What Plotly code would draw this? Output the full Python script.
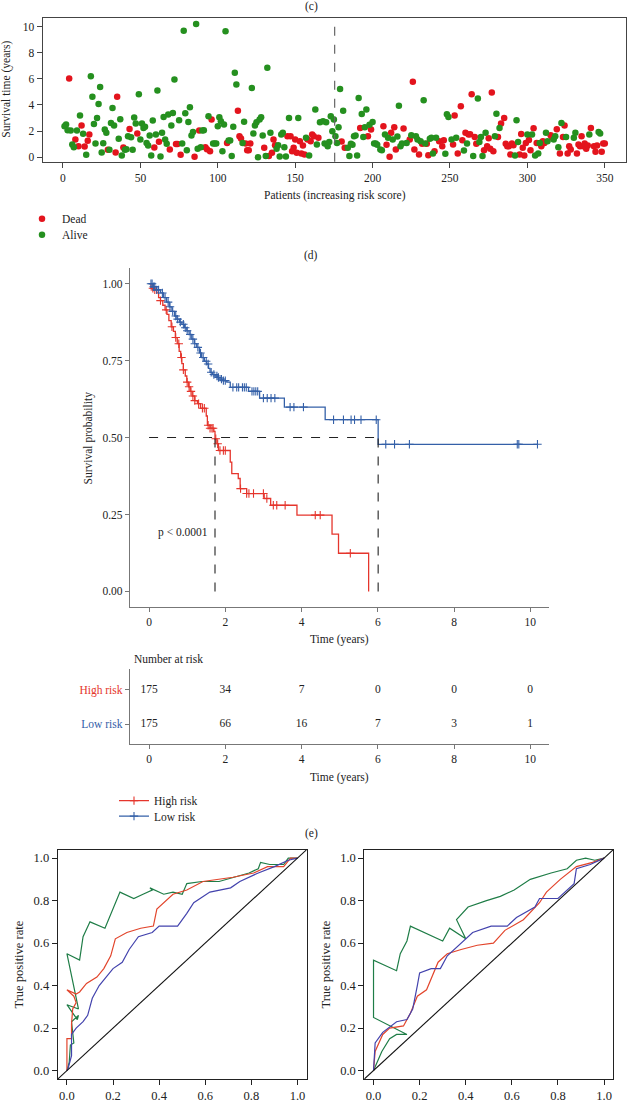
import numpy as np
import plotly.graph_objects as go

# ---------------- data ----------------
# (c) risk-ordered patients: survival time (years), status 1 = Dead, 0 = Alive
seg1_time = [
    2.37, 2.5, 2.06, 6.03, 2.04, 0.97, 0.76, 1.35, 2.04, 0.84,
    3.18, 2.42, 1.8, 0.81, 0.18, 1.25, 1.73, 6.2, 4.63, 2.54,
    1.04, 3.0, 4.07, 5.37, 0.36, 1.07, 2.11, 1.86, 0.56, 0.56,
    2.62, 3.77, 2.42, 0.36, 4.63, 1.4, 2.9, 0.13, 0.74, 0.56,
    0.61, 1.6, 2.16, 1.53, 0.56, 3.03, 2.57, 1.81, 4.81, 1.35,
    2.57, 2.24, 2.32, 1.09, 0.89, 1.65, 0.13, 2.8, 0.74, 1.73,
    5.11, 1.17, 0.05, 1.86, 3.08, 1.35, 1.02, 3.26, 0.59, 2.42,
    3.38, 5.95, 1.0, 1.0, 2.82, 0.18, 1.04, 9.69, 3.36, 0.53,
    2.7, 3.82, 1.65, 1.93, 0.03, 10.2, 0.64, 2.04, 0.76, 2.04,
    2.06, 0.76, 0.61, 3.13, 0.46, 2.88, 1.04, 1.04, 1.04, 2.37,
    3.05, 2.75, 0.46, 2.5, 9.64, 1.09, 1.27, 1.27, 0.08, 2.32,
    6.46, 5.57, 3.56, 1.6, 1.42, 1.09, 2.72, 1.04, 0.53, 0.53,
    1.04, 5.29, 1.81, 2.42, 2.67, 0.0, 2.88, 3.05, 1.65, 0.71,
    0.08, 6.84, 0.08, 1.86, 0.33, 1.35, 0.92, 0.64, 0.92, 0.05,
    1.73, 1.86, 0.76, 0.05, 1.6, 3.0, 1.6, 0.46, 0.71, 1.35,
    0.33, 3.0, 1.22, 0.28, 0.89, 0.2, 1.48, 1.35, 0.13, 1.22,
    1.73, 1.6, 3.64, 0.97, 1.48, 2.67]
seg1_status = [
    0, 0, 0, 1, 0, 0, 0, 1, 0, 1,
    0, 1, 0, 1, 0, 1, 1, 0, 0, 0,
    0, 0, 0, 0, 0, 0, 0, 0, 1, 0,
    0, 0, 0, 1, 1, 0, 0, 0, 1, 0,
    0, 0, 1, 0, 0, 0, 0, 1, 0, 0,
    0, 0, 0, 0, 0, 0, 0, 0, 1, 0,
    0, 1, 0, 0, 0, 0, 0, 0, 1, 0,
    0, 0, 1, 1, 0, 1, 0, 0, 0, 0,
    0, 0, 0, 0, 1, 0, 0, 1, 0, 0,
    0, 1, 1, 0, 1, 1, 0, 0, 0, 0,
    0, 0, 0, 0, 0, 1, 0, 0, 0, 0,
    0, 0, 1, 1, 1, 0, 0, 1, 1, 1,
    1, 0, 0, 0, 0, 0, 0, 0, 0, 1,
    0, 0, 1, 0, 1, 1, 1, 0, 0, 0,
    0, 0, 0, 0, 1, 0, 1, 1, 1, 1,
    1, 0, 1, 1, 1, 1, 0, 1, 0, 1,
    1, 1, 0, 0, 1, 0]
seg2_patient = [
    168, 169, 170, 171, 172, 173, 174, 175, 176, 177,
    178, 179, 180, 181, 182, 184, 185, 186, 187, 188,
    189, 190, 191, 192, 193, 194, 195, 196, 197, 198,
    199, 200, 201, 202, 203, 205, 206, 207, 208, 209,
    210, 211, 212, 213, 214, 215, 216, 217, 218, 219,
    220, 222, 224, 225, 226, 227, 228, 229, 230, 231,
    232, 233, 234, 235, 236, 237, 238, 239, 240, 241,
    243, 245, 246, 247, 248, 249, 251, 252, 253, 254,
    255, 257, 258, 259, 260, 261, 262, 263, 264, 265,
    266, 267, 268, 269, 270, 271, 272, 273, 274, 275,
    276, 277, 278, 279, 280, 281, 282, 283, 285, 286,
    287, 288, 289, 290, 291, 292, 293, 294, 295, 296,
    297, 298, 299, 300, 301, 302, 303, 304, 305, 306,
    307, 308, 309, 310, 311, 312, 313, 315, 316, 317,
    318, 319, 320, 321, 322, 323, 324, 325, 326, 327,
    328, 330, 331, 332, 333, 334, 335, 336, 337, 338,
    339, 340, 341, 343, 344, 345, 346, 347, 348, 349,
    350]
seg2_time = [
    2.75, 1.04, 2.67, 0.84, 1.15, 3.13, 1.98, 2.88, 1.6, 1.09,
    2.29, 5.22, 1.2, 3.56, 0.71, 0.71, 0.08, 1.02, 0.94, 1.6,
    1.65, 0.13, 4.53, 2.24, 3.31, 1.55, 2.29, 3.64, 1.6, 2.49,
    2.11, 2.7, 1.04, 1.04, 0.94, 0.59, 0.53, 2.37, 1.73, 0.94,
    1.48, 0.03, 1.86, 1.35, 2.29, 0.59, 1.58, 3.94, 0.84, 1.04,
    2.19, 1.09, 1.35, 1.68, 5.78, 0.59, 1.6, 1.35, 0.2, 1.22,
    1.02, 4.36, 1.04, 1.02, 0.15, 1.4, 1.48, 0.28, 0.46, 1.48,
    1.22, 0.84, 1.3, 0.25, 3.28, 3.08, 1.35, 0.97, 3.18, 1.48,
    0.28, 3.89, 1.3, 0.51, 1.86, 1.04, 1.73, 1.76, 4.81, 0.08,
    1.55, 1.02, 4.5, 1.15, 1.55, 0.08, 0.53, 1.86, 0.84, 1.45,
    0.64, 4.96, 0.46, 1.6, 3.33, 1.55, 2.24, 2.57, 3.0, 1.02,
    0.84, 0.84, 0.2, 1.04, 0.92, 0.13, 2.82, 1.15, 0.2, 1.78,
    0.71, 0.13, 1.09, 1.73, 1.32, 0.53, 1.73, 2.21, 0.13, 1.09,
    0.28, 1.09, 0.84, 1.22, 1.09, 1.86, 1.22, 1.68, 1.48, 1.35,
    1.6, 2.14, 0.76, 0.28, 2.62, 1.55, 2.42, 1.55, 0.28, 0.84,
    0.59, 1.48, 1.86, 0.28, 0.97, 0.84, 1.6, 0.84, 1.04, 0.64,
    0.89, 1.73, 2.24, 0.84, 0.41, 0.89, 1.93, 1.81, 0.41, 1.04,
    1.04]
seg2_status = [
    0, 0, 0, 0, 0, 0, 0, 0, 0, 0,
    0, 0, 1, 0, 1, 0, 0, 0, 0, 0,
    0, 0, 0, 1, 0, 0, 0, 0, 1, 0,
    1, 0, 0, 0, 0, 0, 0, 1, 0, 1,
    0, 1, 1, 0, 1, 1, 0, 0, 0, 0,
    1, 0, 1, 0, 1, 1, 0, 0, 1, 0,
    1, 0, 0, 1, 1, 0, 0, 0, 1, 0,
    1, 1, 1, 0, 0, 0, 0, 1, 1, 0,
    1, 1, 1, 0, 1, 0, 1, 1, 1, 0,
    1, 1, 0, 0, 0, 0, 1, 0, 1, 1,
    1, 1, 1, 0, 0, 1, 0, 1, 1, 1,
    1, 1, 1, 1, 1, 0, 0, 0, 1, 1,
    1, 1, 1, 0, 1, 1, 0, 1, 0, 1,
    0, 0, 1, 1, 1, 0, 0, 1, 1, 0,
    0, 1, 0, 1, 0, 1, 1, 0, 1, 1,
    1, 0, 0, 1, 1, 1, 1, 1, 1, 1,
    1, 0, 1, 1, 1, 1, 0, 0, 1, 1,
    1]

# (d) Kaplan-Meier steps: (time, survival after the drop)
high_t = [0, 0.05, 0.12, 0.2, 0.25, 0.3, 0.36, 0.42, 0.47, 0.52, 0.58, 0.64, 0.69,
          0.74, 0.79, 0.83, 0.86, 0.9, 0.95, 0.99, 1.04, 1.08, 1.13, 1.2, 1.27, 1.35,
          1.5, 1.53, 1.6, 1.7, 1.73, 1.78, 1.82, 2.13, 2.17, 2.34, 2.39, 2.56, 3.02,
          3.19, 3.88, 4.8, 4.97, 5.76]
high_s = [1.0, 0.985, 0.98, 0.97, 0.955, 0.945, 0.93, 0.915, 0.9, 0.88, 0.86, 0.845, 0.825,
          0.805, 0.78, 0.76, 0.74, 0.72, 0.70, 0.68, 0.665, 0.65, 0.635, 0.62, 0.61, 0.595,
          0.57, 0.54, 0.53, 0.52, 0.496, 0.48, 0.458, 0.42, 0.383, 0.367, 0.334, 0.318, 0.302,
          0.28, 0.248, 0.186, 0.124, 0.0]
high_cens = [0.1, 0.15, 0.3, 0.45, 0.6, 0.7, 0.78, 0.85, 0.9, 1.0, 1.05, 1.1, 1.15, 1.2,
             1.3, 1.4, 1.45, 1.55, 1.6, 1.65, 1.68, 1.75, 1.8, 1.86, 1.95, 2.0, 2.4, 2.56,
             2.62, 2.74, 3.0, 3.09, 3.26, 3.35, 3.57, 4.36, 4.49, 5.28]
low_t = [0, 0.1, 0.2, 0.3, 0.38, 0.46, 0.53, 0.6, 0.67, 0.73, 0.8, 0.86, 0.93, 0.99, 1.05,
         1.12, 1.19, 1.25, 1.32, 1.38, 1.45, 1.51, 1.56, 1.6, 1.66, 1.73, 1.8, 1.86, 1.95,
         2.04, 2.13, 2.61, 2.9, 3.55, 4.62, 6.01, 10.19]
low_s = [1.0, 0.99, 0.98, 0.97, 0.955, 0.94, 0.925, 0.91, 0.895, 0.885, 0.875, 0.868, 0.857,
         0.847, 0.835, 0.82, 0.805, 0.793, 0.775, 0.76, 0.748, 0.739, 0.725, 0.712, 0.705,
         0.70, 0.695, 0.69, 0.685, 0.68, 0.663, 0.65, 0.628, 0.599, 0.558, 0.478, 0.478]
low_cens = [0.05, 0.08, 0.12, 0.15, 0.2, 0.25, 0.35, 0.42, 0.5, 0.55, 0.62, 0.7, 0.75, 0.82,
            0.9, 0.95, 1.0, 1.08, 1.15, 1.2, 1.28, 1.35, 1.42, 1.5, 1.55, 1.63, 1.7, 1.78,
            1.82, 1.9, 1.95, 2.0, 2.2, 2.3, 2.35, 2.45, 2.5, 2.55, 2.7, 2.75, 2.8, 2.85, 3.0,
            3.1, 3.2, 3.3, 3.7, 3.8, 4.05, 4.84, 5.1, 5.3, 5.39, 5.56, 5.96, 6.21, 6.44, 6.83,
            9.66, 9.70, 10.19]

# risk table
risk_times = [0, 2, 4, 6, 8, 10]
risk_high = [175, 34, 7, 0, 0, 0]
risk_low = [175, 66, 16, 7, 3, 1]

# (e) ROC curves (false positive rate, true positive rate)
roc1_green_x = [0, 0.01, 0.015, 0.03, 0.02, 0.05, 0.045, 0.0, 0.05, 0.0, 0.055, 0.07, 0.10, 0.165,
                0.23, 0.29, 0.33, 0.37, 0.36, 0.42, 0.46, 0.50, 0.52, 0.585, 0.66, 0.72, 0.79,
                0.83, 0.84, 0.88, 0.94, 0.96, 1.0]
roc1_green_y = [0, 0.04, 0.12, 0.13, 0.23, 0.26, 0.24, 0.31, 0.29, 0.55, 0.52, 0.63, 0.70, 0.67,
                0.84, 0.81, 0.83, 0.85, 0.86, 0.83, 0.84, 0.83, 0.88, 0.89, 0.89, 0.91, 0.93,
                0.95, 0.98, 0.97, 0.97, 1.0, 1.0]
roc1_red_x = [0, 0.0, 0.02, 0.02, 0.025, 0.04, 0.03, 0.0, 0.04, 0.055, 0.085, 0.13, 0.16, 0.19,
              0.21, 0.26, 0.32, 0.375, 0.39, 0.42, 0.46, 0.52, 0.59, 0.72, 0.81, 0.87, 0.94,
              0.97, 1.0]
roc1_red_y = [0, 0.15, 0.15, 0.22, 0.29, 0.32, 0.35, 0.38, 0.36, 0.37, 0.41, 0.44, 0.48, 0.54,
              0.62, 0.65, 0.67, 0.68, 0.76, 0.79, 0.83, 0.85, 0.89, 0.91, 0.93, 0.96, 0.96,
              1.0, 1.0]
roc1_blue_x = [0, 0.005, 0.02, 0.02, 0.04, 0.07, 0.09, 0.11, 0.14, 0.17, 0.2, 0.24, 0.27, 0.31,
               0.37, 0.4, 0.48, 0.52, 0.55, 0.62, 0.71, 0.75, 0.83, 0.9, 0.96, 1.0]
roc1_blue_y = [0, 0.01, 0.07, 0.17, 0.2, 0.23, 0.26, 0.34, 0.4, 0.44, 0.48, 0.51, 0.57, 0.63,
               0.65, 0.68, 0.68, 0.74, 0.79, 0.84, 0.86, 0.89, 0.93, 0.96, 0.99, 1.0]
roc2_green_x = [0, 0.015, 0.036, 0.07, 0.1, 0.145, 0.0, 0.0, 0.1, 0.116, 0.145, 0.16, 0.3, 0.33,
                0.4, 0.36, 0.41, 0.49, 0.55, 0.61, 0.68, 0.77, 0.84, 0.88, 0.92, 0.96, 1.0]
roc2_green_y = [0, 0.04, 0.09, 0.15, 0.17, 0.17, 0.25, 0.52, 0.47, 0.55, 0.61, 0.68, 0.61, 0.67,
                0.62, 0.71, 0.77, 0.8, 0.82, 0.85, 0.9, 0.93, 0.95, 0.99, 1.0, 0.99, 1.0]
roc2_red_x = [0, 0.007, 0.04, 0.07, 0.13, 0.16, 0.19, 0.23, 0.28, 0.32, 0.38, 0.45, 0.52, 0.57,
              0.65, 0.72, 0.75, 0.81, 0.88, 0.95, 1.0]
roc2_red_y = [0, 0.09, 0.17, 0.2, 0.21, 0.27, 0.35, 0.38, 0.51, 0.55, 0.57, 0.59, 0.6, 0.66,
              0.71, 0.79, 0.84, 0.9, 0.96, 0.98, 1.0]
roc2_blue_x = [0, 0.007, 0.04, 0.1, 0.145, 0.17, 0.19, 0.2, 0.25, 0.29, 0.32, 0.39, 0.43, 0.51,
               0.58, 0.62, 0.7, 0.72, 0.8, 0.87, 0.88, 0.94, 1.0]
roc2_blue_y = [0, 0.13, 0.18, 0.23, 0.24, 0.29, 0.4, 0.46, 0.48, 0.48, 0.54, 0.61, 0.65, 0.68,
               0.68, 0.72, 0.77, 0.81, 0.81, 0.88, 0.95, 0.97, 1.0]

# ---------------- layout helpers ----------------
W, H = 627, 1103
FONT = "Liberation Serif"
TXT = "#222222"


def fx(p):
    return p / W


def fy(p):
    return 1 - p / H


RED_PT, GREEN_PT = "#e3141d", "#25901f"
KM_RED, KM_BLUE = "#e5352c", "#3460a8"
ROC_GREEN, ROC_RED, ROC_BLUE = "#1f7d47", "#e2452c", "#4343ad"

patients = np.array(list(range(1, len(seg1_time) + 1)) + seg2_patient)
surv_time = np.array(seg1_time + seg2_time)
status = np.array(seg1_status + seg2_status)

fig = go.Figure()

# ---- (c) scatter ----
for flag, name, col, lg in [(1, "Dead", RED_PT, "legend"), (0, "Alive", GREEN_PT, "legend3")]:
    m = status == flag
    fig.add_trace(go.Scatter(x=patients[m], y=surv_time[m], mode="markers", name=name,
                             marker=dict(color=col, size=6.5, line=dict(width=0)),
                             xaxis="x", yaxis="y", legend=lg))


# ---- (d) KM ----
def step_val(ts, ss, t):
    idx = np.searchsorted(np.array(ts), t, side="right") - 1
    return np.array(ss)[idx]


for ts, ss, cens, col, name, lg in [(high_t, high_s, high_cens, KM_RED, "High risk", "legend2"),
                                    (low_t, low_s, low_cens, KM_BLUE, "Low risk", "legend4")]:
    fig.add_trace(go.Scatter(x=ts, y=ss, mode="lines", line=dict(color=col, width=1.3, shape="hv"),
                             xaxis="x2", yaxis="y2", showlegend=False))
    fig.add_trace(go.Scatter(x=cens, y=step_val(ts, ss, np.array(cens)), mode="markers",
                             marker=dict(symbol="cross-thin", size=6, line=dict(color=col, width=1.1)),
                             xaxis="x2", yaxis="y2", showlegend=False))
    fig.add_trace(go.Scatter(x=[None], y=[None], mode="lines+markers", name=name,
                             line=dict(color=col, width=1.3),
                             marker=dict(symbol="cross-thin", size=6, line=dict(color=col, width=1.1)),
                             xaxis="x2", yaxis="y2", legend=lg))


def median_time(ts, ss):
    ss = np.array(ss)
    return np.array(ts)[np.argmax(ss <= 0.5)]


med_high = median_time(high_t, high_s)
med_low = median_time(low_t, low_s)
shapes = []
dash = dict(color="#222", width=1.1, dash="dash")
shapes.append(dict(type="line", xref="x2", yref="y2", x0=0, x1=max(med_high, med_low), y0=0.5, y1=0.5, line=dash))
for m in (med_high, med_low):
    shapes.append(dict(type="line", xref="x2", yref="y2", x0=m, x1=m, y0=0, y1=0.5, line=dash))

# risk-group split in (c)
shapes.append(dict(type="line", xref="x", yref="y domain", x0=risk_high[0] + 0.5, x1=risk_high[0] + 0.5,
                   y0=0, y1=1, line=dict(color="#666", width=1.2, dash="dash")))

# ---- risk table ----
fig.add_trace(go.Scatter(x=risk_times + risk_times, y=[1] * len(risk_times) + [0] * len(risk_times),
                         mode="text", text=[str(v) for v in risk_high + risk_low],
                         textfont=dict(family=FONT, size=11.5, color=TXT),
                         xaxis="x3", yaxis="y3", showlegend=False))

# ---- (e) ROC ----
for xs, ys, col, ax in [(roc1_green_x, roc1_green_y, ROC_GREEN, "4"), (roc1_red_x, roc1_red_y, ROC_RED, "4"),
                        (roc1_blue_x, roc1_blue_y, ROC_BLUE, "4"),
                        (roc2_green_x, roc2_green_y, ROC_GREEN, "5"), (roc2_red_x, roc2_red_y, ROC_RED, "5"),
                        (roc2_blue_x, roc2_blue_y, ROC_BLUE, "5")]:
    fig.add_trace(go.Scatter(x=xs, y=ys, mode="lines", line=dict(color=col, width=1.2),
                             xaxis="x" + ax, yaxis="y" + ax, showlegend=False))
for ax in ("4", "5"):
    shapes.append(dict(type="line", xref="x" + ax, yref="y" + ax, x0=-0.04, y0=-0.04, x1=1.04, y1=1.04,
                       line=dict(color="#111", width=1.1)))

tickfont = dict(family=FONT, size=11.5, color=TXT)

box_axis = dict(showline=True, mirror=True, linecolor="#444", linewidth=1.3, ticks="outside",
                ticklen=5, tickcolor="#444", tickwidth=1, showgrid=False, zeroline=False,
                tickfont=tickfont)
km_axis = dict(showline=True, mirror=False, linecolor="#777", linewidth=1.4, ticks="outside",
               ticklen=4, tickcolor="#777", tickwidth=1.2, showgrid=False, zeroline=False,
               tickfont=tickfont)
roc_axis = dict(showline=True, mirror=True, linecolor="#222", linewidth=1.1, ticks="outside",
                ticklen=5, tickcolor="#222", tickwidth=1, showgrid=False, zeroline=False,
                tickfont=dict(family=FONT, size=12.5, color=TXT))


def leg(x, y):
    return dict(x=fx(x), y=fy(y), xanchor="left", yanchor="top", bgcolor="rgba(0,0,0,0)",
                font=dict(family=FONT, size=11.5, color=TXT), tracegroupgap=0, itemwidth=30)


fig.update_layout(
    width=W, height=H, margin=dict(l=0, r=0, t=0, b=0),
    paper_bgcolor="white", plot_bgcolor="white",
    font=dict(family=FONT, size=11.5, color=TXT),
    xaxis=dict(box_axis, domain=[fx(42.7), fx(626)], range=[-13.1, 363.7],
               tickvals=[0, 50, 100, 150, 200, 250, 300, 350], anchor="y"),
    yaxis=dict(box_axis, domain=[fy(162.3), fy(18.3)], range=[-0.35, 10.64],
               tickvals=[0, 2, 4, 6, 8, 10], anchor="x"),
    xaxis2=dict(km_axis, domain=[fx(130), fx(549.3)], range=[-0.5, 10.5],
                tickvals=[0, 2, 4, 6, 8, 10], anchor="y2"),
    yaxis2=dict(km_axis, domain=[fy(609), fy(269.3)], range=[-0.05, 1.05],
                tickvals=[0, 0.25, 0.5, 0.75, 1.0], tickformat=".2f", anchor="x2"),
    xaxis3=dict(km_axis, domain=[fx(130), fx(549.3)], range=[-0.5, 10.5],
                tickvals=[0, 2, 4, 6, 8, 10], anchor="y3"),
    yaxis3=dict(km_axis, domain=[fy(746.7), fy(671.7)], range=[-0.58, 1.6],
                tickvals=[1, 0],
                ticktext=['<span style="color:%s">High risk</span>' % KM_RED,
                          '<span style="color:%s">Low risk</span>' % KM_BLUE],
                anchor="x3"),
    xaxis4=dict(roc_axis, domain=[fx(57.7), fx(306.7)], range=[-0.04, 1.04],
                tickvals=[0, 0.2, 0.4, 0.6, 0.8, 1.0], tickformat=".1f", anchor="y4"),
    yaxis4=dict(roc_axis, domain=[fy(1083), fy(852.7)], range=[-0.04, 1.04],
                tickvals=[0, 0.2, 0.4, 0.6, 0.8, 1.0], tickformat=".1f", anchor="x4"),
    xaxis5=dict(roc_axis, domain=[fx(364.3), fx(613.3)], range=[-0.04, 1.04],
                tickvals=[0, 0.2, 0.4, 0.6, 0.8, 1.0], tickformat=".1f", anchor="y5"),
    yaxis5=dict(roc_axis, domain=[fy(1083), fy(852.7)], range=[-0.04, 1.04],
                tickvals=[0, 0.2, 0.4, 0.6, 0.8, 1.0], tickformat=".1f", anchor="x5"),
    legend=leg(22, 205),
    legend3=leg(22, 221),
    legend2=leg(114, 789),
    legend4=leg(114, 804.5),
    shapes=shapes,
    showlegend=True,
)


def ann(text, x, y, size=11.5, angle=0, xanchor="center", color=TXT):
    return dict(text=text, x=fx(x), y=fy(y), xref="paper", yref="paper", showarrow=False,
                textangle=angle, xanchor=xanchor, yanchor="middle",
                font=dict(family=FONT, size=size, color=color))


annotations = [
    ann("(c)", 311, 7),
    ann("Survival time (years)", 7, 90, angle=-90),
    ann("Patients (increasing risk score)", 335, 196),
    ann("(d)", 311, 256),
    ann("Survival probability", 88, 440, angle=-90),
    ann("Time (years)", 339, 642),
    ann("Number at risk", 132, 661, xanchor="left"),
    ann("Time (years)", 339, 780),
    ann("(e)", 311, 837),
    ann("True positive rate", 19, 968, size=12.5, angle=-90),
    ann("True positive rate", 326, 968, size=12.5, angle=-90),
]
annotations.append(dict(text="p < 0.0001", x=0.9, y=0.19, xref="x2", yref="y2", showarrow=False,
                        font=dict(family=FONT, size=11.5, color=TXT)))
fig.update_layout(annotations=annotations)

fig.write_html("out.html", config={"displayModeBar": False},
               post_script="document.body.style.margin='0';document.body.style.overflow='hidden';")
